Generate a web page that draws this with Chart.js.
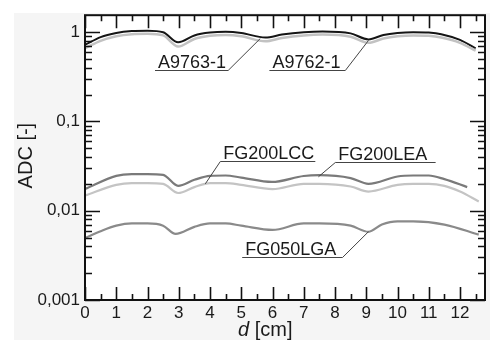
<!DOCTYPE html>
<html>
<head>
<meta charset="utf-8">
<script src="https://cdn.jsdelivr.net/npm/chart.js@4/dist/chart.umd.min.js"></script>
<style>
  html, body { margin: 0; padding: 0; background: #fff; }
  #wrap { width: 490px; height: 340px; }
</style>
</head>
<body>
<div id="wrap"><canvas id="chart" width="490" height="340"></canvas></div>
<script>
// values (d in cm, ADC unitless)
const xA = [0, 0.5, 1, 1.5, 2, 2.5, 2.98, 3.5, 4, 4.5, 5, 5.77, 6.3, 7, 7.6, 8.5, 9.07, 9.55, 10, 10.5, 11, 11.4, 12, 12.5];
const a9763 = [0.72, 0.88, 0.98, 1.03, 1.04, 1.0, 0.77, 0.92, 0.99, 1.01, 0.98, 0.87, 0.94, 1.0, 1.02, 0.97, 0.83, 0.93, 0.98, 1.0, 0.99, 0.95, 0.82, 0.66];
const a9762 = [0.66, 0.8, 0.9, 0.95, 0.96, 0.92, 0.69, 0.84, 0.91, 0.93, 0.9, 0.79, 0.86, 0.92, 0.94, 0.89, 0.76, 0.85, 0.9, 0.92, 0.91, 0.87, 0.76, 0.62];

const xLCC = [0, 1, 1.5, 2, 2.5, 2.98, 3.5, 4, 4.5, 5, 5.98, 7, 7.5, 8.5, 9.07, 10, 10.5, 11, 11.5, 12.23];
const fg200lcc = [0.0175, 0.0246, 0.0257, 0.0257, 0.0252, 0.019, 0.0222, 0.0246, 0.0248, 0.0235, 0.021, 0.0245, 0.025, 0.0232, 0.020, 0.0242, 0.0248, 0.0248, 0.0226, 0.0184];

const xLEA = [0, 1, 1.5, 2, 2.5, 2.98, 3.5, 4, 4.5, 5, 6, 7, 7.5, 8.5, 9.07, 10, 10.5, 11, 11.5, 12, 12.6];
const fg200lea = [0.0148, 0.0195, 0.0204, 0.0204, 0.0200, 0.0158, 0.0184, 0.0204, 0.0204, 0.0195, 0.0175, 0.020, 0.020, 0.0187, 0.0164, 0.0195, 0.020, 0.020, 0.019, 0.0164, 0.0127];

const xLGA = [0, 0.5, 1, 1.5, 2, 2.5, 2.9, 3.5, 4, 4.5, 5, 6, 7, 7.5, 8.5, 9.07, 9.5, 10, 10.5, 11.5, 12.6];
const fg050lga = [0.00495, 0.0059, 0.0068, 0.0072, 0.0072, 0.0068, 0.0055, 0.0066, 0.0072, 0.0072, 0.0068, 0.0061, 0.0072, 0.0072, 0.0068, 0.0058, 0.0070, 0.0076, 0.0076, 0.0070, 0.0054];

const xTicks = [0, 1, 2, 3, 4, 5, 6, 7, 8, 9, 10, 11, 12];
const yTicks = [0.001, 0.01, 0.1, 1];
const yTickText = ["0,001", "0,01", "0,1", "1"];

// callouts in data units: underline from u0 to u1 at uy, leader from the "from" end to the tip
const callouts = [
  { text: "A9763-1", u0: 2.24, u1: 4.58, uy: 0.373, from: "right", tx: 5.61, ty: 0.85 },
  { text: "A9762-1", u0: 5.9, u1: 8.33, uy: 0.373, from: "right", tx: 9.07, ty: 0.807 },
  { text: "FG200LCC", u0: 4.33, u1: 7.37, uy: 0.0362, from: "left", tx: 3.85, ty: 0.020 },
  { text: "FG200LEA", u0: 8.01, u1: 11.22, uy: 0.0353, from: "left", tx: 7.47, ty: 0.024 },
  { text: "FG050LGA", u0: 5.03, u1: 8.24, uy: 0.00306, from: "right", tx: 9.07, ty: 0.00582 }
];

const FONT = "'Liberation Sans', Arial, sans-serif";

const pts = (xs, ys) => xs.map((x, i) => ({ x: x, y: ys[i] }));

const line = (label, xs, ys, color, width) => ({
  label: label,
  data: pts(xs, ys),
  borderColor: color,
  borderWidth: width,
  pointRadius: 0,
  showLine: true,
  fill: false,
  cubicInterpolationMode: "monotone"
});

const frameAndTicks = {
  id: "frameAndTicks",
  beforeDraw: (chart) => {
    const { ctx, chartArea: a } = chart;
    ctx.save();
    ctx.fillStyle = "#fff";
    ctx.fillRect(0, 0, chart.width, chart.height);
    ctx.fillStyle = "#f5f5f5";
    ctx.fillRect(14, 13, chart.width - 14, chart.height - 13);
    ctx.fillStyle = "#fff";
    ctx.fillRect(a.left, a.top, a.right - a.left, a.bottom - a.top);
    ctx.restore();
  },
  afterDatasetsDraw: (chart) => {
    const { ctx, chartArea: a, scales } = chart;
    const xs = scales.x, ys = scales.y;
    ctx.save();
    ctx.strokeStyle = "#111";
    ctx.lineWidth = 1.6;
    ctx.beginPath();
    // x ticks, bottom and top, majors at integers, minors at halves
    for (let v = 0; v <= xs.max; v += 0.5) {
      const px = Math.round(xs.getPixelForValue(v)) + 0.5;
      const len = Number.isInteger(v) ? 13 : 6;
      ctx.moveTo(px, a.bottom); ctx.lineTo(px, a.bottom - len);
      ctx.moveTo(px, a.top); ctx.lineTo(px, a.top + len);
    }
    // y ticks, left and right, log minors
    for (let d = 0.001; d < 2; d *= 10) {
      for (let m = 1; m <= 9; m++) {
        const v = d * m;
        if (v < ys.min || v > ys.max) continue;
        const py = Math.round(ys.getPixelForValue(v)) + 0.5;
        const len = m === 1 ? 15 : 7;
        ctx.moveTo(a.left, py); ctx.lineTo(a.left + len, py);
        ctx.moveTo(a.right, py); ctx.lineTo(a.right - len, py);
      }
    }
    ctx.stroke();
    ctx.lineWidth = 2;
    ctx.strokeRect(a.left, a.top, a.right - a.left, a.bottom - a.top);

    // callouts
    ctx.strokeStyle = "#444";
    ctx.lineWidth = 1;
    ctx.fillStyle = "#1a1a1a";
    ctx.font = "18px " + FONT;
    ctx.textBaseline = "alphabetic";
    ctx.textAlign = "left";
    callouts.forEach((c) => {
      const x0 = xs.getPixelForValue(c.u0), x1 = xs.getPixelForValue(c.u1);
      const y0 = Math.round(ys.getPixelForValue(c.uy)) + 0.5;
      const fx = c.from === "left" ? x0 : x1;
      ctx.beginPath();
      ctx.moveTo(x0, y0); ctx.lineTo(x1, y0);
      ctx.moveTo(fx, y0);
      ctx.lineTo(xs.getPixelForValue(c.tx), ys.getPixelForValue(c.ty));
      ctx.stroke();
      ctx.fillText(c.text, x0 + 3, y0 - 3);
    });

    // axis titles
    ctx.fillStyle = "#1a1a1a";
    ctx.font = "20px " + FONT;
    ctx.textAlign = "center";
    ctx.textBaseline = "middle";
    ctx.save();
    ctx.translate(26, (a.top + a.bottom) / 2 - 2);
    ctx.rotate(-Math.PI / 2);
    ctx.fillText("ADC [-]", 0, 0);
    ctx.restore();

    ctx.textAlign = "left";
    ctx.font = "italic 20px " + FONT;
    const dW = ctx.measureText("d").width;
    const sx = 238;
    ctx.fillText("d", sx, 330);
    ctx.font = "20px " + FONT;
    ctx.fillText(" [cm]", sx + dW, 330);
    ctx.restore();
  }
};

new Chart(document.getElementById("chart"), {
  type: "scatter",
  data: {
    datasets: [
      line("A9762-1", xA, a9762, "#c2c2c2", 2.5),
      line("A9763-1", xA, a9763, "#151515", 2),
      line("FG200LEA", xLEA, fg200lea, "#c4c4c4", 2.2),
      line("FG200LCC", xLCC, fg200lcc, "#7a7a7a", 2.2),
      line("FG050LGA", xLGA, fg050lga, "#8a8a8a", 2.2)
    ]
  },
  options: {
    responsive: false,
    animation: false,
    layout: { padding: { top: 15, right: 5, left: 0, bottom: 0 } },
    plugins: {
      legend: { display: false },
      tooltip: { enabled: false }
    },
    scales: {
      x: {
        type: "linear",
        min: 0,
        max: 12.8,
        grid: { display: false, drawTicks: false },
        border: { display: false },
        afterBuildTicks: (s) => { s.ticks = xTicks.map((v) => ({ value: v })); },
        afterFit: (s) => { s.height = 40; },
        ticks: {
          padding: 3,
          color: "#1a1a1a",
          font: { family: FONT, size: 17 },
          maxRotation: 0,
          callback: (v) => String(v)
        }
      },
      y: {
        type: "logarithmic",
        min: 0.001,
        max: 1.55,
        grid: { display: false, drawTicks: false },
        border: { display: false },
        afterBuildTicks: (s) => { s.ticks = yTicks.map((v) => ({ value: v })); },
        afterFit: (s) => { s.width = 85; },
        ticks: {
          padding: 5,
          color: "#1a1a1a",
          font: { family: FONT, size: 17 },
          callback: (v) => yTickText[yTicks.indexOf(v)] || ""
        }
      }
    }
  },
  plugins: [frameAndTicks]
});
</script>
</body>
</html>
